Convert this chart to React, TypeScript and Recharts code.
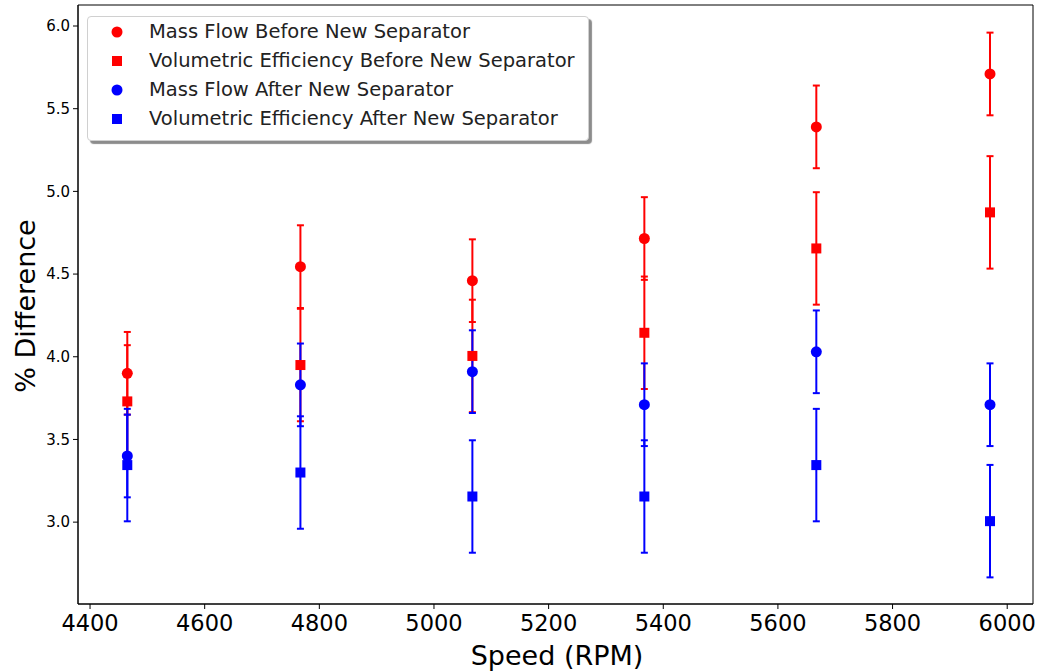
import { ScatterChart, Scatter, XAxis, YAxis, ErrorBar, ReferenceArea, Label } from "recharts"

// speed (RPM) of each test point
const speeds = [4465, 4767, 5067, 5367, 5667, 5970]

const massFlowBefore = [3.9, 4.545, 4.46, 4.715, 5.39, 5.71]
const volEffBefore = [3.73, 3.95, 4.005, 4.145, 4.655, 4.873]
const massFlowAfter = [3.4, 3.83, 3.91, 3.71, 4.03, 3.71]
const volEffAfter = [3.345, 3.3, 3.155, 3.155, 3.345, 3.006]

const massFlowErr = [0.25, 0.25, 0.25, 0.25, 0.25, 0.25]
const volEffErr = [0.34, 0.34, 0.34, 0.34, 0.34, 0.34]

const seriesNames = [
  "Mass Flow Before New Separator",
  "Volumetric Efficiency Before New Separator",
  "Mass Flow After New Separator",
  "Volumetric Efficiency After New Separator",
]

const xTicks = [4400, 4600, 4800, 5000, 5200, 5400, 5600, 5800, 6000]
const yTicks = [3.0, 3.5, 4.0, 4.5, 5.0, 5.5, 6.0]

const X_DOMAIN: [number, number] = [4379, 6045]
const Y_DOMAIN: [number, number] = [2.505, 6.127]

const RED = "#ff0000"
const BLUE = "#0000ff"
const FONT = "'DejaVu Sans', sans-serif"

const toRows = (vals: number[], errs: number[]) =>
  speeds.map((s, i) => ({ x: s, y: vals[i], err: errs[i] }))

const series = [
  { name: seriesNames[0], color: RED, marker: "circle", data: toRows(massFlowBefore, massFlowErr) },
  { name: seriesNames[1], color: RED, marker: "square", data: toRows(volEffBefore, volEffErr) },
  { name: seriesNames[2], color: BLUE, marker: "circle", data: toRows(massFlowAfter, massFlowErr) },
  { name: seriesNames[3], color: BLUE, marker: "square", data: toRows(volEffAfter, volEffErr) },
]

function markerShape(color: string, marker: string) {
  return (props: any) => {
    const { cx, cy } = props
    if (marker === "circle") return <circle cx={cx} cy={cy} r={5.5} fill={color} />
    return <rect x={cx - 5} y={cy - 5} width={10} height={10} fill={color} />
  }
}

function LegendBox() {
  return (
    <div
      style={{
        position: "absolute",
        left: 87,
        top: 16,
        width: 500,
        height: 123,
        border: "1px solid #d0d0d0",
        borderRadius: 4,
        background: "#fff",
        boxShadow: "3px 3px 1px rgba(0,0,0,0.45)",
        fontFamily: FONT,
        fontSize: 19.5,
        color: "#222",
      }}
    >
      {series.map((s, i) => (
        <div
          key={s.name}
          style={{ position: "absolute", left: 0, top: 1 + i * 29, height: 26, display: "flex", alignItems: "center" }}
        >
          <svg width={60} height={26} style={{ display: "block" }}>
            {s.marker === "circle" ? (
              <circle cx={29} cy={14} r={5.5} fill={s.color} />
            ) : (
              <rect x={24} y={9} width={10} height={10} fill={s.color} />
            )}
          </svg>
          <span style={{ marginLeft: 1, whiteSpace: "nowrap" }}>{s.name}</span>
        </div>
      ))}
    </div>
  )
}

export default function App() {
  return (
    <div style={{ position: "absolute", left: 0, top: 0, width: 1039, height: 672, background: "#fff" }}>
      <ScatterChart width={1039} height={672} margin={{ top: 5, right: 6, bottom: 0, left: 0 }}>
        <XAxis
          type="number"
          dataKey="x"
          domain={X_DOMAIN}
          allowDataOverflow
          ticks={xTicks}
          height={68}
          tickSize={5}
          tickMargin={6}
          axisLine={{ stroke: "#000" }}
          tickLine={{ stroke: "#000" }}
          tick={{ fill: "#000", fontSize: 22.5, fontFamily: FONT }}
        >
          <Label
            content={() => (
              <text x={557} y={665} textAnchor="middle" fontSize={27} fontFamily={FONT} fill="#000">
                Speed (RPM)
              </text>
            )}
          />
        </XAxis>
        <YAxis
          type="number"
          dataKey="y"
          domain={Y_DOMAIN}
          allowDataOverflow
          ticks={yTicks}
          width={78}
          tickSize={5}
          tickMargin={3}
          tickFormatter={(v: number) => v.toFixed(1)}
          axisLine={{ stroke: "#000" }}
          tickLine={{ stroke: "#000" }}
          tick={{ fill: "#000", fontSize: 15, fontFamily: FONT }}
        >
          <Label
            content={() => (
              <text
                x={35}
                y={306}
                textAnchor="middle"
                fontSize={27}
                fontFamily={FONT}
                fill="#000"
                transform="rotate(-90 35 306)"
              >
                % Difference
              </text>
            )}
          />
        </YAxis>
        <ReferenceArea
          x1={X_DOMAIN[0]}
          x2={X_DOMAIN[1]}
          y1={Y_DOMAIN[0]}
          y2={Y_DOMAIN[1]}
          fill="none"
          stroke="#000"
          strokeWidth={1}
        />
        {series.map((s) => (
          <Scatter
            key={s.name}
            name={s.name}
            data={s.data}
            fill={s.color}
            shape={markerShape(s.color, s.marker)}
            isAnimationActive={false}
          >
            <ErrorBar
              dataKey="err"
              direction="y"
              stroke={s.color}
              strokeWidth={2}
              width={3.5}
              isAnimationActive={false}
            />
          </Scatter>
        ))}
      </ScatterChart>
      <LegendBox />
    </div>
  )
}
